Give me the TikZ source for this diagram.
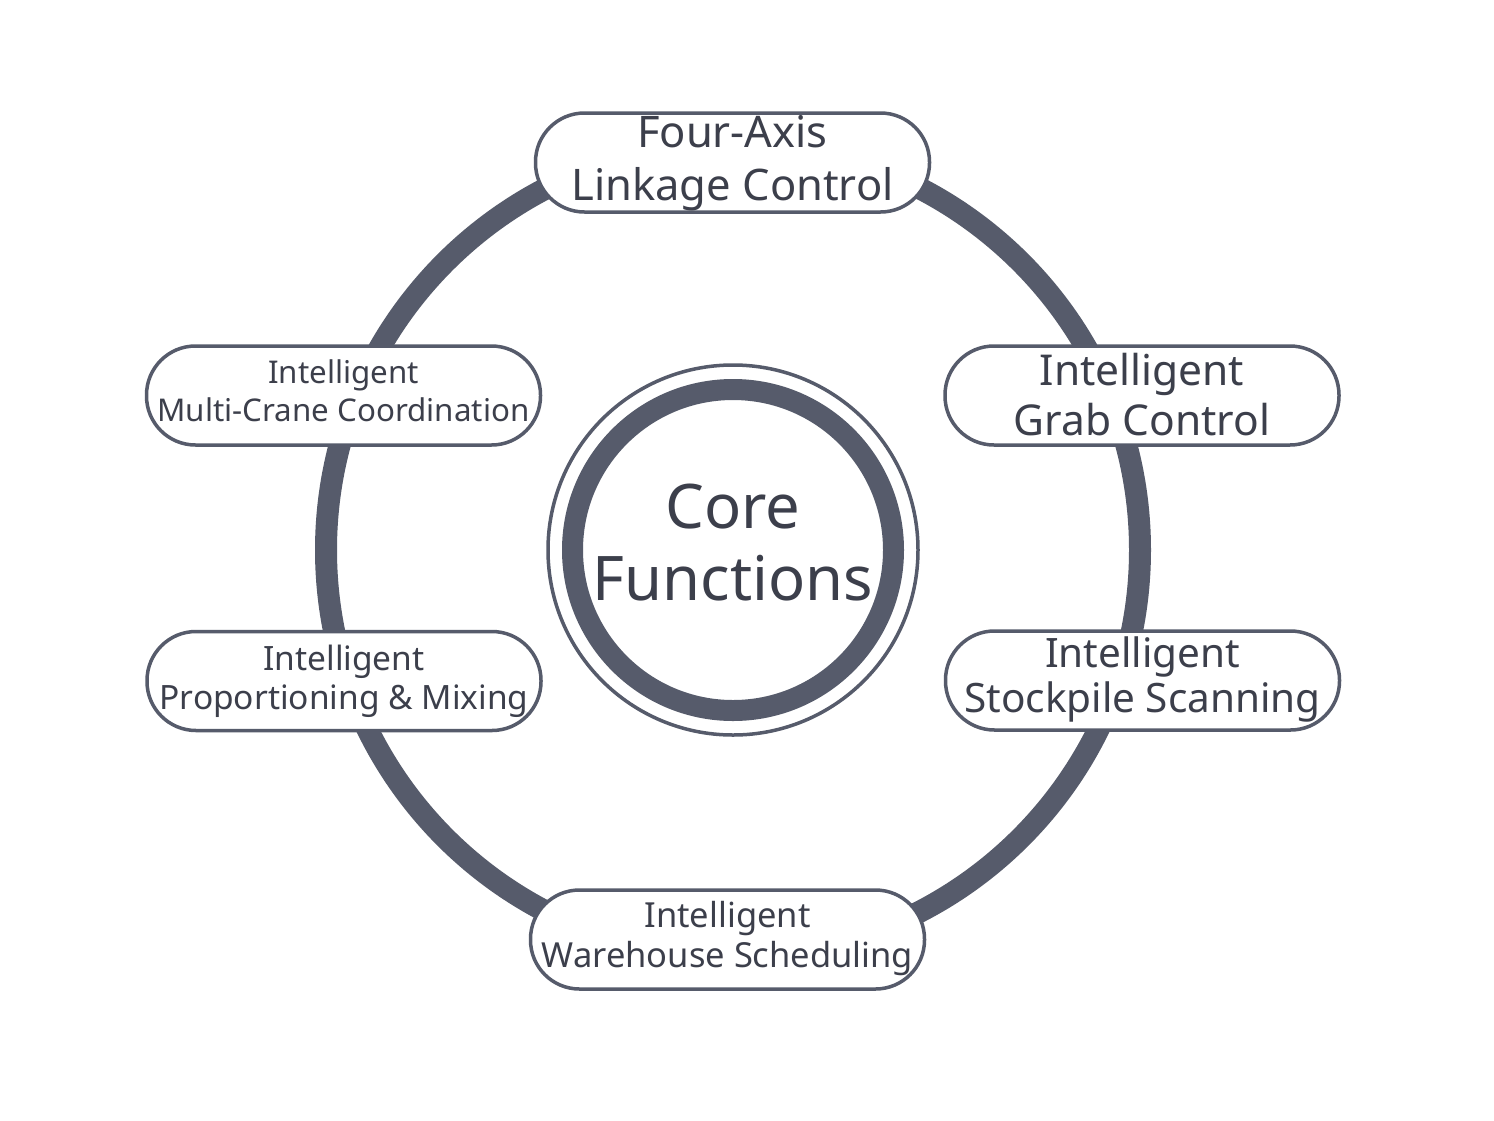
\documentclass[tikz,border=0pt]{standalone}
\usepackage{fontspec}
\setmainfont{Noto Sans}
\definecolor{ringc}{HTML}{565B6B}
\definecolor{txtc}{HTML}{3C3F4B}
\tikzset{
  fbox/.style={draw=ringc, line width=3.5pt, fill=white, rounded corners=49pt,
    minimum width=394pt, minimum height=99pt, align=center, text=txtc, inner sep=0pt},
}
\begin{document}
\begin{tikzpicture}[x=1pt,y=-1pt]
\useasboundingbox (0,0) rectangle (1494,1120);
\fill[white] (0,0) rectangle (1494,1120);
\coordinate (c) at (733,550);
\draw[ringc, line width=22pt] (c) circle (407);
\draw[ringc, line width=21pt] (c) circle (160.5);
\draw[ringc, line width=3.5pt] (c) circle (185);
\node[align=center, text=txtc, inner sep=0pt, text height=117pt, text depth=17pt,
  font=\fontsize{61.5}{72}\selectfont] (core) at (c) {Core\\Functions};
\node[fbox, text height=83pt, text depth=8pt, font=\fontsize{43.5}{53}\selectfont] (top) at (732.5,162.5) {Four-Axis\\Linkage Control};
\node[fbox, text height=80pt, text depth=1pt, font=\fontsize{42.5}{50}\selectfont] (ru) at (1142,395.5) {Intelligent\\Grab Control};
\node[fbox, text height=63pt, text depth=12pt, font=\fontsize{31.3}{38}\selectfont] (lu) at (343.5,395.5) {Intelligent\\Multi-Crane Coordination};
\node[fbox, text height=64pt, text depth=8pt, font=\fontsize{33.5}{39}\selectfont] (ll) at (344,681) {Intelligent\\Proportioning \& Mixing};
\node[fbox, text height=73pt, text depth=10pt, font=\fontsize{40.5}{45}\selectfont] (rl) at (1142.5,680.5) {Intelligent\\Stockpile Scanning};
\node[fbox, text height=65pt, text depth=10pt, font=\fontsize{34.5}{40}\selectfont] (bot) at (727.5,939.5) {Intelligent\\Warehouse Scheduling};
\end{tikzpicture}
\end{document}
